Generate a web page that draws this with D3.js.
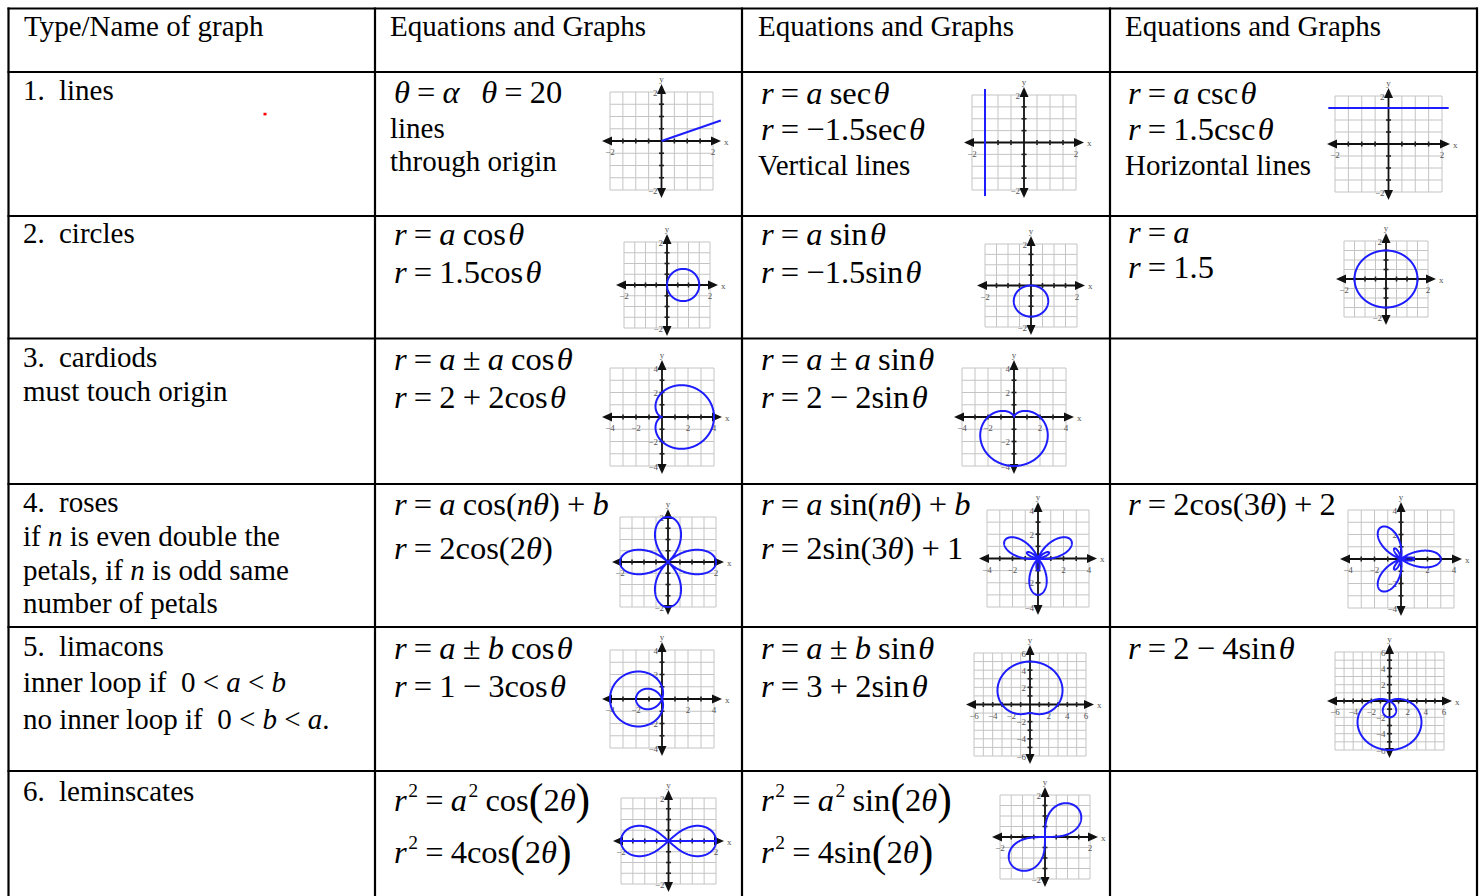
<!DOCTYPE html>
<html><head><meta charset="utf-8">
<script src="https://cdn.jsdelivr.net/npm/d3@7"></script>
<style>body{margin:0;background:#fff}svg{display:block}</style>
</head><body>
<svg id="c" width="1483" height="896"></svg>
<script>
// ================= DATA =================
const columnHeaders = ["Type/Name of graph", "Equations and Graphs", "Equations and Graphs", "Equations and Graphs"];
const typeNumbers = ["1.", "2.", "3.", "4.", "5.", "6."];
const typeNames = ["lines", "circles", "cardiods", "roses", "limacons", "leminscates"];
const typeNotes = [
  [],
  [],
  ["must touch origin"],
  ["if *n* is even double the", "petals, if *n* is odd same", "number of petals"],
  ["inner loop if  0 < *a* < *b*", "no inner loop if  0 < *b* < *a*."],
  []
];
// equation / caption lines for columns 2..4, per row
const equationLines = [
  [["*θ* = *α*   *θ* = 20", "lines", "through origin"],
   ["*r* = *a* sec~*θ*", "*r* = −1.5sec~*θ*", "Vertical lines"],
   ["*r* = *a* csc~*θ*", "*r* = 1.5csc~*θ*", "Horizontal lines"]],
  [["*r* = *a* cos~*θ*", "*r* = 1.5cos~*θ*"],
   ["*r* = *a* sin~*θ*", "*r* = −1.5sin~*θ*"],
   ["*r* = *a*", "*r* = 1.5"]],
  [["*r* = *a* ± *a* cos~*θ*", "*r* = 2 + 2cos~*θ*"],
   ["*r* = *a* ± *a* sin~*θ*", "*r* = 2 − 2sin~*θ*"],
   []],
  [["*r* = *a* cos(*nθ*) + *b*", "*r* = 2cos(2*θ*)"],
   ["*r* = *a* sin(*nθ*) + *b*", "*r* = 2sin(3*θ*) + 1"],
   ["*r* = 2cos(3*θ*) + 2"]],
  [["*r* = *a* ± *b* cos~*θ*", "*r* = 1 − 3cos~*θ*"],
   ["*r* = *a* ± *b* sin~*θ*", "*r* = 3 + 2sin~*θ*"],
   ["*r* = 2 − 4sin~*θ*"]],
  [["*r*^2 = *a*^2 cos{2*θ*}", "*r*^2 = 4cos{2*θ*}"],
   ["*r*^2 = *a*^2 sin{2*θ*}", "*r*^2 = 4sin{2*θ*}"],
   []]
];

// mini graphs: [row, col] of the cell holding each graph
const graphCells = [[0,1],[0,2],[0,3],[1,1],[1,2],[1,3],[2,1],[2,2],[3,1],[3,2],[3,3],[4,1],[4,2],[4,3],[5,1],[5,2]];
const graphRange = [2, 2, 2, 2, 2, 2, 4, 4, 2, 4, 4, 4, 6, 6, 2, 2];
const graphKind  = ["ray","vline","hline","polar","polar","polar","polar","polar","polar","polar","polar","polar","polar","polar","polarSq","polarSq"];
// r = c + p cos(nθ) + q sin(nθ)   (polarSq: r² = c + p cos(nθ) + q sin(nθ))
const polarConst = [0, 0, 0, 0,   0,   1.5, 2, 2,  0, 1, 1, 1,  3, 2,  0, 0];
const polarCos   = [0, 0, 0, 1.5, 0,   0,   2, 0,  2, 0, 2, -3, 0, 0,  4, 0];
const polarSin   = [0, 0, 0, 0,  -1.5, 0,   0, -2, 0, 2, 0, 0,  2, -4, 0, 4];
const polarFreq  = [1, 1, 1, 1,   1,   1,   1, 1,  2, 3, 3, 1,  1, 1,  2, 2];
// straight lines
const rayAngleDeg = 20, rayLength = 2.45;
const vlineX = -1.5, vlineHalf = 2.25;
const hlineY = 1.5,  hlineHalf = 2.25;
const tickLabelValues = {2: [-2, 2], 4: [-4, -2, 2, 4], 6: [-6, -4, -2, 2, 4, 6]};
const gridStep = {2: 0.5, 4: 1, 6: 1};

// ================= LAYOUT =================
const colLines = [8.5, 375, 742, 1110, 1477];
const rowLines = [8.5, 72, 216, 338.5, 484, 627, 771, 920];
const textX = [23, 390, 758, 1125];
const mathX = [23, 394, 761, 1128];
const nameX = 59;
const headerBaseline = 36;
const cellBaselines = [
  [[100], [103,138,171], [104,140,175], [104,140,175]],
  [[243], [245,283], [245,283], [243,278]],
  [[367,401], [370,408], [370,408], []],
  [[512,546,580,613], [515,559], [515,559], [515]],
  [[656,692,729], [659,697], [659,697], [659]],
  [[801], [811,863], [811,863], []]
];
const graphBoxes = [
  [610, 92, 713, 190], [972, 95, 1076, 190], [1335, 96, 1442, 192],
  [624, 242, 710, 328], [985, 244, 1077, 327], [1344, 241, 1428, 317],
  [610, 368, 714, 466], [962, 368, 1066, 466],
  [620, 517, 716, 607], [987, 510, 1089, 607], [1348, 510, 1454, 608],
  [610, 650, 714, 748], [974, 653, 1086, 756], [1335, 652, 1444, 750],
  [621, 798, 716, 884], [1000, 795, 1090, 879]
];
const FONT = "Liberation Serif";
const mathSize = 32.5, textSize = 29;
const BLUE = "#1d1dff";

const svg = d3.select("#c");
svg.append("rect").attr("width", 1483).attr("height", 896).attr("fill", "#fff");

// ---------- rich text ----------
function richText(x, y, str, size, math) {
  const t = svg.append("text").attr("x", x).attr("y", y)
    .attr("font-family", FONT).attr("font-size", size).attr("fill", "#000")
    .style("white-space", "pre");
  const toks = str.split(/(\*[^*]*\*|\^.|[{}]|~| )/).filter(s => s !== "");
  let pdx = 0, pdy = 0;
  toks.forEach(tok => {
    if (tok === "~") { pdx += size * 0.07; return; }
    if (math && tok === " ") { pdx += size * 0.22; return; }
    const s = t.append("tspan");
    let txt = tok, dy = pdy; pdy = 0;
    if (tok.startsWith("*") && tok.length > 1) { txt = tok.slice(1, -1); s.attr("font-style", "italic"); }
    else if (tok.startsWith("^")) { txt = tok.slice(1); s.attr("font-size", size * 0.6); dy += -size * 0.42; pdy = size * 0.42; pdx += size * 0.05; }
    else if (tok === "{" || tok === "}") { txt = tok === "{" ? "(" : ")"; s.attr("font-size", size * 1.35); dy += size * 0.1; pdy = -size * 0.1; }
    if (pdx) s.attr("dx", pdx);
    if (dy) s.attr("dy", dy);
    pdx = 0;
    s.text(txt);
  });
  return t;
}

// ---------- table ----------
const grid = svg.append("g").attr("stroke", "#000").attr("stroke-width", 2.2);
colLines.forEach(cx => grid.append("line").attr("x1", cx).attr("x2", cx).attr("y1", rowLines[0] - 1).attr("y2", rowLines[rowLines.length - 1]));
rowLines.forEach(ry => grid.append("line").attr("x1", colLines[0] - 1).attr("x2", colLines[4] + 1).attr("y1", ry).attr("y2", ry));

columnHeaders.forEach((h, i) => richText(textX[i] + (i === 0 ? 1 : 0), headerBaseline, h, textSize, false));

typeNames.forEach((name, r) => {
  const ys = cellBaselines[r][0];
  richText(textX[0], ys[0], typeNumbers[r], textSize, false);
  richText(nameX, ys[0], name, textSize, false);
  typeNotes[r].forEach((n, k) => richText(textX[0], ys[k + 1], n, textSize, false));
});

equationLines.forEach((row, r) => {
  row.forEach((lines, c) => {
    lines.forEach((ln, k) => {
      const isMath = ln.includes("=");
      richText(isMath ? mathX[c + 1] : textX[c + 1], cellBaselines[r][c + 1][k], ln, isMath ? mathSize : textSize, isMath);
    });
  });
});

// tiny red mark in first cell
svg.append("rect").attr("x", 263.5).attr("y", 112.8).attr("width", 3).attr("height", 2.6).attr("fill", "#f00");

// ---------- mini graphs ----------
function curvePoints(i) {
  const k = graphKind[i];
  if (k === "ray") { const a = rayAngleDeg * Math.PI / 180; return [[0, 0], [rayLength * Math.cos(a), rayLength * Math.sin(a)]]; }
  if (k === "vline") return [[vlineX, -vlineHalf], [vlineX, vlineHalf]];
  if (k === "hline") return [[-hlineHalf, hlineY], [hlineHalf, hlineY]];
  const pts = [];
  const N = 720;
  const f = th => polarConst[i] + polarCos[i] * Math.cos(polarFreq[i] * th) + polarSin[i] * Math.sin(polarFreq[i] * th);
  if (k === "polar") {
    for (let j = 0; j <= N; j++) { const th = j / N * 2 * Math.PI; const r = f(th); pts.push([r * Math.cos(th), r * Math.sin(th)]); }
    return pts;
  }
  // r^2 = f(θ): trace both signs of r
  [1, -1].forEach(sg => {
    for (let j = 0; j <= N; j++) { const th = j / N * 2 * Math.PI; const v = f(th); const r = v > 0 ? sg * Math.sqrt(v) : 0; pts.push([r * Math.cos(th), r * Math.sin(th)]); }
  });
  return pts;
}

graphBoxes.forEach((box, i) => {
  const R = graphRange[i];
  const x = d3.scaleLinear().domain([-R, R]).range([box[0], box[2]]);
  const y = d3.scaleLinear().domain([-R, R]).range([box[3], box[1]]);
  const step = gridStep[R];
  const vals = d3.range(-R, R + step / 2, step);
  const g = svg.append("g");
  // grid
  g.selectAll(".gv").data(vals).join("line").attr("class", "gv")
    .attr("x1", d => x(d)).attr("x2", d => x(d)).attr("y1", y(-R)).attr("y2", y(R))
    .attr("stroke", "#c4c4c4").attr("stroke-width", 1);
  g.selectAll(".gh").data(vals).join("line").attr("class", "gh")
    .attr("y1", d => y(d)).attr("y2", d => y(d)).attr("x1", x(-R)).attr("x2", x(R))
    .attr("stroke", "#c4c4c4").attr("stroke-width", 1);
  const x0 = x(0), y0 = y(0), ext = 8;
  const xa = x(-R) - ext, xb = x(R) + ext, ya = y(R) - ext, yb = y(-R) + ext;
  // axes
  g.append("line").attr("x1", xa + 4).attr("x2", xb - 4).attr("y1", y0).attr("y2", y0).attr("stroke", "#111").attr("stroke-width", 1.8);
  g.append("line").attr("y1", ya + 4).attr("y2", yb - 4).attr("x1", x0).attr("x2", x0).attr("stroke", "#111").attr("stroke-width", 1.8);
  const ah = 10, aw = 4.5;
  const arrows = [
    [[xa, y0], [xa + ah, y0 - aw], [xa + ah, y0 + aw]],
    [[xb, y0], [xb - ah, y0 - aw], [xb - ah, y0 + aw]],
    [[x0, ya], [x0 - aw, ya + ah], [x0 + aw, ya + ah]],
    [[x0, yb], [x0 - aw, yb - ah], [x0 + aw, yb - ah]]
  ];
  g.selectAll(".ar").data(arrows).join("path").attr("class", "ar")
    .attr("d", d => "M" + d.map(p => p.join(",")).join("L") + "Z").attr("fill", "#111");
  // ticks
  const tv = vals.filter(v => v !== 0 && Math.abs(v) < R);
  g.selectAll(".tx").data(tv).join("line").attr("class", "tx")
    .attr("x1", d => x(d)).attr("x2", d => x(d)).attr("y1", y0 - 2.5).attr("y2", y0 + 2.5)
    .attr("stroke", "#222").attr("stroke-width", 1.6);
  g.selectAll(".ty").data(tv).join("line").attr("class", "ty")
    .attr("y1", d => y(d)).attr("y2", d => y(d)).attr("x1", x0 - 2.5).attr("x2", x0 + 2.5)
    .attr("stroke", "#222").attr("stroke-width", 1.6);
  // labels
  const lv = tickLabelValues[R];
  const lab = (sel) => sel.attr("font-family", FONT).attr("font-size", 9).attr("fill", "#555");
  lab(g.selectAll(".lx").data(lv).join("text").attr("class", "lx")
    .attr("x", d => x(d)).attr("y", y0 + 14).attr("text-anchor", "middle").text(d => d < 0 ? "−" + (-d) : d));
  lab(g.selectAll(".ly").data(lv).join("text").attr("class", "ly")
    .attr("x", x0 - 4).attr("y", d => y(d) + 3.5).attr("text-anchor", "end").text(d => d < 0 ? "−" + (-d) : d));
  lab(g.append("text").attr("x", xb + 3).attr("y", y0 + 3.5).text("x"));
  lab(g.append("text").attr("x", x0).attr("y", ya - 2).attr("text-anchor", "middle").text("y"));
  // curve
  const line = d3.line().x(p => x(p[0])).y(p => y(p[1]));
  g.append("path").attr("d", line(curvePoints(i))).attr("fill", "none")
    .attr("stroke", BLUE).attr("stroke-width", 2).attr("stroke-linejoin", "round");
});
</script>
</body></html>
